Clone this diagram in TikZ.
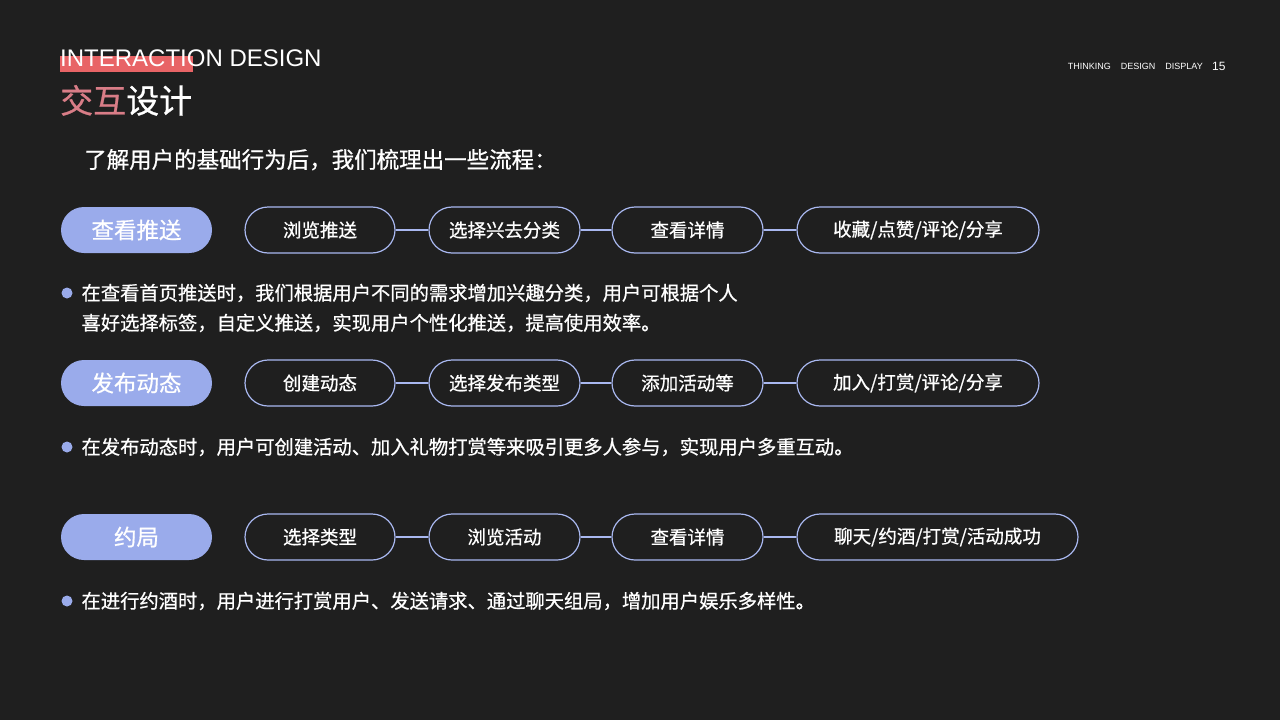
\documentclass[tikz,border=0pt]{standalone}
\usepackage{fontspec}
\setmainfont{Noto Sans CJK SC}
\newfontfamily\med[FakeBold=0.7]{Noto Sans CJK SC}
\newfontfamily\lat{Liberation Sans}
\definecolor{bg}{HTML}{1F1F1F}
\definecolor{pill}{HTML}{9AABEB}
\definecolor{edge}{HTML}{A9B8F0}
\definecolor{redbar}{HTML}{E86466}
\definecolor{pinkt}{HTML}{D97D87}
\tikzset{
 pillbox/.style={fill=pill,rounded corners=23pt,minimum height=46pt,text=white,font=\med\fontsize{22.5}{22.5}\selectfont},
 stepbox/.style={draw=edge,line width=1.2pt,fill=bg,rounded corners=23pt,minimum height=46pt,text=white,font=\med\fontsize{18.5}{18.5}\selectfont},
 link/.style={draw=edge,line width=1.2pt},
 desc/.style={anchor=west,text=white,font=\med\fontsize{19.3}{30}\selectfont,align=left},
 dot/.style={circle,fill=pill,minimum size=11pt,inner sep=0pt}
}
\begin{document}
\begin{tikzpicture}[x=1pt,y=-1pt]
\fill[bg] (0,0) rectangle (1280,720);
\useasboundingbox (0,0) rectangle (1280,720);
\fill[redbar] (60,56) rectangle (193,72);
\node[anchor=base west,inner sep=0,text=white,font=\lat\fontsize{24}{24}\selectfont] (t1) at (60,66) {INTERACTION DESIGN};
\node[anchor=base west,inner sep=0,font=\med\fontsize{33}{33}\selectfont] (t2) at (60,113) {\textcolor{pinkt}{交互}\textcolor{white}{设计}};
\node[anchor=base west,inner sep=0,text=white,font=\med\fontsize{22.5}{22.5}\selectfont] (t3) at (84,168) {了解用户的基础行为后，我们梳理出一些流程：};
\node[anchor=base east,inner sep=0,text=white,font=\lat\fontsize{9}{9}\selectfont] (h) at (1203,69) {THINKING\hspace{10pt}DESIGN\hspace{10pt}DISPLAY};
\node[anchor=base west,inner sep=0,text=white,font=\lat\fontsize{12}{12}\selectfont] (pg) at (1212,70) {15};
% row 1
\node[pillbox,minimum width=151pt] (p1) at (136.5,230) {查看推送};
\node[stepbox,minimum width=150pt] (a1) at (320,230) {浏览推送};
\node[stepbox,minimum width=151pt] (a2) at (504.5,230) {选择兴去分类};
\node[stepbox,minimum width=151pt] (a3) at (687.5,230) {查看详情};
\node[stepbox,minimum width=242pt] (a4) at (918,230) {收藏/点赞/评论/分享};
\draw[link] (a1)--(a2) (a2)--(a3) (a3)--(a4);
\node[dot] (d1) at (67,293) {};
\node[desc] (x1) at (78,308) {在查看首页推送时，我们根据用户不同的需求增加兴趣分类，用户可根据个人\\喜好选择标签，自定义推送，实现用户个性化推送，提高使用效率。};
% row 2
\node[pillbox,minimum width=151pt] (p2) at (136.5,383) {发布动态};
\node[stepbox,minimum width=150pt] (b1) at (320,383) {创建动态};
\node[stepbox,minimum width=151pt] (b2) at (504.5,383) {选择发布类型};
\node[stepbox,minimum width=151pt] (b3) at (687.5,383) {添加活动等};
\node[stepbox,minimum width=242pt] (b4) at (918,383) {加入/打赏/评论/分享};
\draw[link] (b1)--(b2) (b2)--(b3) (b3)--(b4);
\node[dot] (d2) at (67,447) {};
\node[desc] (x2) at (78,447) {在发布动态时，用户可创建活动、加入礼物打赏等来吸引更多人参与，实现用户多重互动。};
% row 3
\node[pillbox,minimum width=151pt] (p3) at (136.5,537) {约局};
\node[stepbox,minimum width=150pt] (c1) at (320,537) {选择类型};
\node[stepbox,minimum width=151pt] (c2) at (504.5,537) {浏览活动};
\node[stepbox,minimum width=151pt] (c3) at (687.5,537) {查看详情};
\node[stepbox,minimum width=281pt] (c4) at (937.5,537) {聊天/约酒/打赏/活动成功};
\draw[link] (c1)--(c2) (c2)--(c3) (c3)--(c4);
\node[dot] (d3) at (67,601) {};
\node[desc] (x3) at (78,601) {在进行约酒时，用户进行打赏用户、发送请求、通过聊天组局，增加用户娱乐多样性。};
\end{tikzpicture}
\end{document}
